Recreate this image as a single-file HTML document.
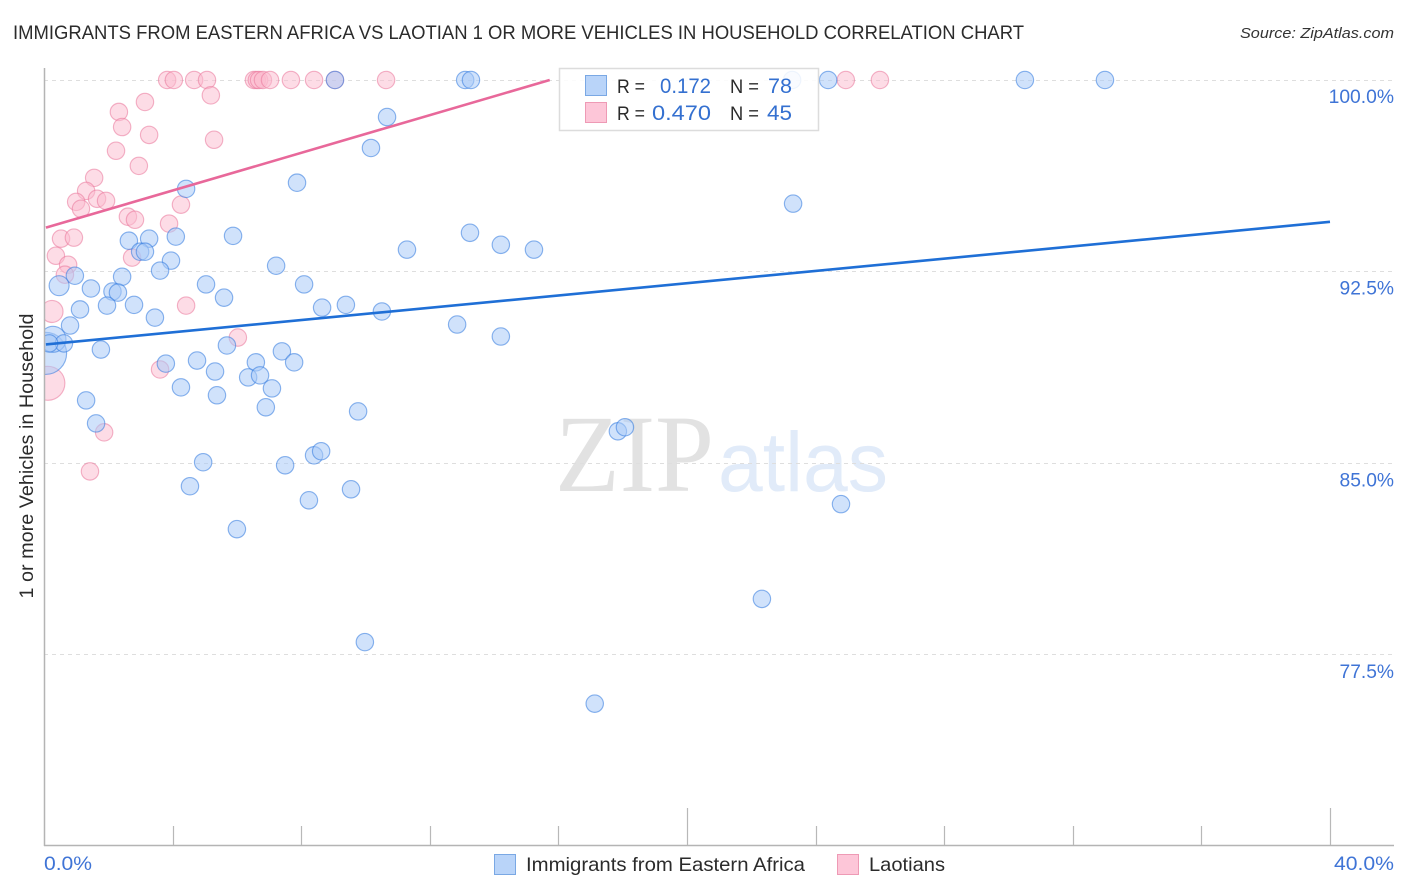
<!DOCTYPE html>
<html lang="en">
<head>
<meta charset="utf-8">
<title>Immigrants from Eastern Africa vs Laotian 1 or more Vehicles in Household Correlation Chart</title>
<style>
html,body{margin:0;padding:0;background:#fff;width:1406px;height:892px;overflow:hidden}
svg{display:block;font-family:"Liberation Sans",sans-serif}
</style>
</head>
<body>
<svg id="chart" width="1406" height="892" viewBox="0 0 1406 892" xmlns="http://www.w3.org/2000/svg">
  <defs>
    <clipPath id="plot-clip"><rect x="45" y="60" width="1349" height="785"/></clipPath>
  </defs>
  <rect width="1406" height="892" fill="#fff"/>
  <text x="13" y="39" font-size="19.5" fill="#2b2b2b" textLength="1011" lengthAdjust="spacingAndGlyphs">IMMIGRANTS FROM EASTERN AFRICA VS LAOTIAN 1 OR MORE VEHICLES IN HOUSEHOLD CORRELATION CHART</text>
  <text x="1394" y="38" font-size="15" font-style="italic" fill="#333" text-anchor="end" textLength="154" lengthAdjust="spacingAndGlyphs">Source: ZipAtlas.com</text>

  <text x="555" y="491" font-family="'Liberation Serif',serif" font-size="110" fill="#e2e2e2" textLength="159" lengthAdjust="spacingAndGlyphs">ZIP</text>
  <text x="718" y="491" font-size="84" fill="#e1ebf9" textLength="170" lengthAdjust="spacingAndGlyphs">atlas</text>

  <g id="grid"></g>
  <g id="pink-points" clip-path="url(#plot-clip)"></g>
  <g id="blue-points" clip-path="url(#plot-clip)"></g>
  <g id="trends"></g>

  <line x1="44.5" y1="68" x2="44.5" y2="846" stroke="#b4b4b4" stroke-width="1.5"/>
  <line x1="44" y1="845.5" x2="1394" y2="845.5" stroke="#b4b4b4" stroke-width="1.5"/>
  <g id="x-ticks"></g>
  <g id="y-labels"></g>

  <text x="44" y="870" font-size="19" fill="#3f74d6" textLength="48" lengthAdjust="spacingAndGlyphs">0.0%</text>
  <text x="1394" y="870" font-size="19" fill="#3f74d6" text-anchor="end" textLength="60" lengthAdjust="spacingAndGlyphs">40.0%</text>
  <text transform="translate(33,456) rotate(-90)" font-size="19" fill="#2b2b2b" text-anchor="middle" textLength="285" lengthAdjust="spacingAndGlyphs">1 or more Vehicles in Household</text>

  <g>
    <rect x="559.5" y="68.5" width="259" height="62" fill="#fff" fill-opacity="0.86" stroke="#dcdcdc" stroke-width="1.5"/>
    <rect x="585.5" y="75.5" width="21" height="20" fill="#b9d4f9" stroke="#7aa8e4"/>
    <rect x="585.5" y="102.5" width="21" height="20" fill="#fdc6d8" stroke="#ee9ab5"/>
    <text x="617" y="93" font-size="19.5" fill="#2b2b2b" textLength="28" lengthAdjust="spacingAndGlyphs">R =</text>
    <text x="711" y="93" font-size="21" fill="#3470d0" text-anchor="end" textLength="51" lengthAdjust="spacingAndGlyphs">0.172</text>
    <text x="730" y="93" font-size="19.5" fill="#2b2b2b" textLength="29" lengthAdjust="spacingAndGlyphs">N =</text>
    <text x="792" y="93" font-size="21" fill="#3470d0" text-anchor="end" textLength="24" lengthAdjust="spacingAndGlyphs">78</text>
    <text x="617" y="120" font-size="19.5" fill="#2b2b2b" textLength="28" lengthAdjust="spacingAndGlyphs">R =</text>
    <text x="711" y="120" font-size="21" fill="#3470d0" text-anchor="end" textLength="59" lengthAdjust="spacingAndGlyphs">0.470</text>
    <text x="730" y="120" font-size="19.5" fill="#2b2b2b" textLength="29" lengthAdjust="spacingAndGlyphs">N =</text>
    <text x="792" y="120" font-size="21" fill="#3470d0" text-anchor="end" textLength="25" lengthAdjust="spacingAndGlyphs">45</text>
  </g>

  <g>
    <rect x="494.5" y="854.5" width="21" height="20" fill="#b9d4f9" stroke="#7aa8e4"/>
    <text x="526" y="871" font-size="19.5" fill="#2b2b2b" textLength="279" lengthAdjust="spacingAndGlyphs">Immigrants from Eastern Africa</text>
    <rect x="837.5" y="854.5" width="21" height="20" fill="#fdc6d8" stroke="#ee9ab5"/>
    <text x="869" y="871" font-size="19.5" fill="#2b2b2b" textLength="76" lengthAdjust="spacingAndGlyphs">Laotians</text>
  </g>
</svg>
<script>
var blueX = [9.05,13.1,13.28,23.27,24.39,30.51,33.0,10.67,10.17,7.87,4.42,23.3,5.88,4.1,2.64,3.27,13.25,14.21,15.24,11.29,2.99,3.14,3.95,3.61,7.22,0.96,2.43,0.47,1.46,5.04,8.09,2.13,2.3,5.6,1.96,2.8,1.12,9.39,8.65,10.51,3.45,0.81,12.85,14.21,0.05,0.28,0.62,0.16,1.77,3.79,4.76,5.32,5.69,6.59,6.35,6.72,7.4,7.78,7.09,6.9,4.26,5.38,1.31,1.62,9.77,4.95,4.54,7.5,8.4,8.62,8.24,9.55,6.0,17.85,18.07,24.79,22.33,9.98,17.13];
var blueY = [100,100,100,100,100,100,100,98.55,97.34,95.98,95.74,95.16,93.9,93.87,93.71,93.79,94.02,93.55,93.36,93.36,93.28,93.28,92.93,92.54,92.73,92.34,92.3,91.95,91.84,92.0,92.0,91.72,91.68,91.48,91.17,91.2,91.02,91.2,91.09,90.94,90.7,90.39,90.43,89.96,89.3,89.85,89.69,89.69,89.45,88.9,89.02,88.59,89.61,88.95,88.36,88.44,89.38,88.95,87.93,87.19,87.97,87.66,87.46,86.56,87.03,85.04,84.1,84.92,85.31,85.47,83.55,83.98,82.42,86.25,86.41,83.4,79.69,78.0,75.59];
var blueWeight = [1,1,1,1,1,1,1,1,1,1, 1,1,1,1,1,1,1,1,1,1, 1,1,1,1,1,1,1,1.32,1,1, 1,1,1,1,1,1,1,1,1,1, 1,1,1,1,5.83,2.23,1,1,1,1, 1,1,1,1,1,1,1,1,1,1, 1,1,1,1,1,1,1,1,1,1, 1,1,1,1,1,1,1,1,1];
var pinkX = [3.83,4.04,4.67,5.07,6.53,6.62,6.69,6.81,7.03,7.68,8.4,9.05,10.64,24.94,26.0,5.19,3.14,2.33,2.43,3.27,5.29,2.24,2.95,1.56,1.31,1.0,1.65,1.93,1.15,2.61,2.83,4.26,3.89,0.53,0.93,0.37,0.75,0.65,2.74,4.42,0.25,6.03,3.61,0.12,1.87,1.43];
var pinkY = [100,100,100,100,100,100,100,100,100,100,100,100,100,100,100,99.4,99.14,98.75,98.16,97.85,97.66,97.23,96.64,96.17,95.66,95.23,95.35,95.27,94.96,94.65,94.53,95.12,94.38,93.79,93.83,93.12,92.77,92.38,93.05,91.17,90.94,89.92,88.67,88.13,86.21,84.68];
var pinkWeight = [1,1,1,1,1,1,1,1,1,1,1,1,1,1,1,1,1,1,1,1,1,1,1,1,1,1,1,1,1,1,1,1,1,1,1,1,1,1,1,1,1.6,1,1,3.82,1,1];
var blueTrendX = [0.06,40];
var blueTrendY = [89.65,94.45];
var pinkTrendX = [0.06,15.73];
var pinkTrendY = [94.22,100];
var yGridValues = [100,92.5,85,77.5];
var yTickLabels = ['100.0%','92.5%','85.0%','77.5%'];
var xTickValues = [4,8,12,16,20,24,28,32,36,40];
var xTickMajor = [0,0,0,0,1,0,0,0,0,1];

var NS = 'http://www.w3.org/2000/svg';
function xScale(v){ return 44 + v * (1286 / 40); }
function yScale(v){ return 80 + (100 - v) * 25.55; }
function rScale(w){ return 8.7 * Math.sqrt(w); }
function make(tag, attrs){
  var el = document.createElementNS(NS, tag);
  for (var k in attrs) el.setAttribute(k, attrs[k]);
  return el;
}

var grid = document.getElementById('grid');
var yLabels = document.getElementById('y-labels');
yGridValues.forEach(function(v, i){
  var gy = Math.floor(yScale(v)) + 0.5;
  var line = make('line', {x1:44, x2:1394, y1:gy, y2:gy, stroke:'#dedede', 'stroke-width':1, 'stroke-dasharray':'4 4'});
  
  
  grid.appendChild(line);
  var label = make('text', {x:1394, y:yScale(v) + 23, 'font-size':19, fill:'#3f74d6', 'text-anchor':'end', textLength:yTickLabels[i].length * 10.9, lengthAdjust:'spacingAndGlyphs'});
  
  
  label.textContent = yTickLabels[i];
  yLabels.appendChild(label);
});

var xTicks = document.getElementById('x-ticks');
xTickValues.forEach(function(v, i){
  var tx = Math.round(xScale(v)) + 0.5;
  var tick = make('line', {x1:tx, x2:tx, y1:xTickMajor[i] ? 808 : 826, y2:845, stroke:'#b8b8b8', 'stroke-width':1.2});
  
  
  xTicks.appendChild(tick);
});

function drawPoints(groupId, xs, ys, ws, fill, stroke, fillOpacity){
  var g = document.getElementById(groupId);
  xs.forEach(function(v, i){
    var c = make('circle', {cx:xScale(v), cy:yScale(ys[i]), r:rScale(ws[i]), fill:fill, 'fill-opacity':fillOpacity, stroke:stroke, 'stroke-opacity':0.55, 'stroke-width':1.15});
    
    
    g.appendChild(c);
  });
}
drawPoints('pink-points', pinkX, pinkY, pinkWeight, '#fbbcd0', '#e9769b', 0.52);
drawPoints('blue-points', blueX, blueY, blueWeight, '#a9cbf7', '#2f78de', 0.55);

var trends = document.getElementById('trends');
var blueTrend = make('line', {x1:xScale(blueTrendX[0]), y1:yScale(blueTrendY[0]), x2:xScale(blueTrendX[1]), y2:yScale(blueTrendY[1]), stroke:'#1f6fd6', 'stroke-width':2.6});


trends.appendChild(blueTrend);
var pinkTrend = make('line', {x1:xScale(pinkTrendX[0]), y1:yScale(pinkTrendY[0]), x2:xScale(pinkTrendX[1]), y2:yScale(pinkTrendY[1]), stroke:'#e8689a', 'stroke-width':2.6});


trends.appendChild(pinkTrend);
</script>
</body>
</html>
